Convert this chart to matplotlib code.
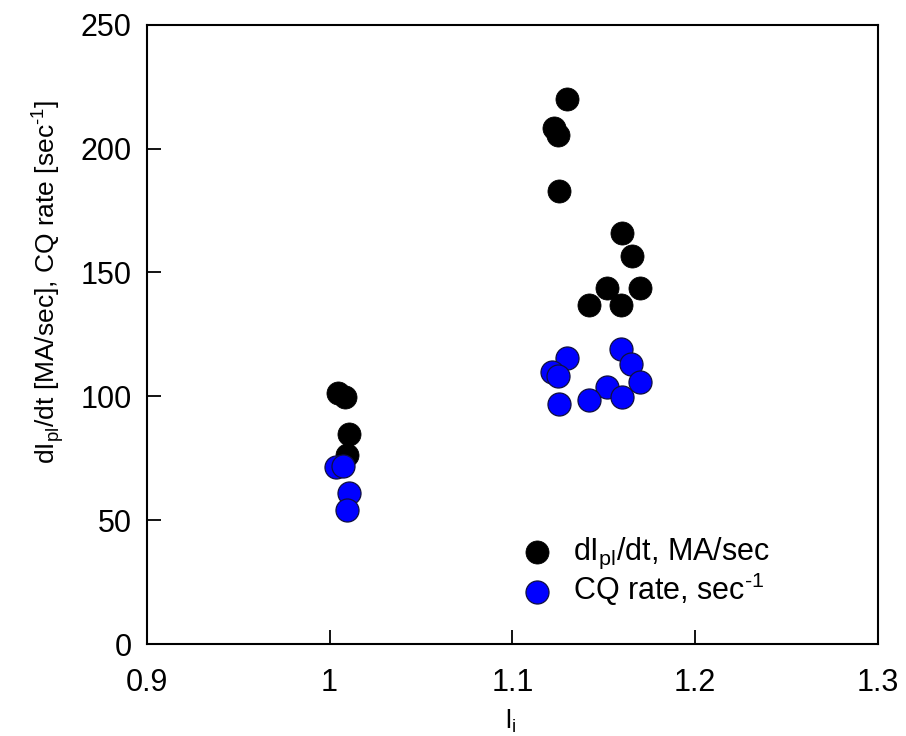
import matplotlib
matplotlib.use("Agg")
import matplotlib.pyplot as plt

plt.rcParams['font.family'] = ['Liberation Sans', 'DejaVu Sans']
plt.rcParams['mathtext.fontset'] = 'custom'
plt.rcParams['mathtext.rm'] = 'Liberation Sans'

li_dip = [1.0044, 1.0082, 1.0104, 1.0093,
          1.1299, 1.1228, 1.1250, 1.1255,
          1.1599, 1.1653, 1.1517, 1.1697, 1.1419, 1.1593]
dip = [101.4, 99.8, 84.8, 76.3,
       220.1, 208.4, 205.6, 183.0,
       166.0, 156.7, 143.8, 143.8, 136.9, 136.9]

li_cq = [1.0038, 1.0076, 1.0104, 1.0093,
         1.1593, 1.1648, 1.1299, 1.1217, 1.1250,
         1.1697, 1.1517, 1.1599, 1.1419, 1.1255]
cq = [71.5, 71.9, 61.0, 54.1,
      119.1, 113.1, 115.5, 109.9, 108.2,
      105.8, 103.8, 99.8, 98.5, 96.9]

xticks = [0.9, 1.0, 1.1, 1.2, 1.3]
xticklabels = ['0.9', '1', '1.1', '1.2', '1.3']
yticks = [0, 50, 100, 150, 200, 250]

fig = plt.figure(figsize=(9.06, 7.36), dpi=100)
ax = fig.add_axes([146.7/906, 1-644/736, (878-146.7)/906, (644-24.7)/736])

ax.scatter(li_dip, dip, s=275, c='black', edgecolors='black', linewidths=0.6,
           label=r'dI$_\mathregular{pl}$/dt, MA/sec', zorder=3)
ax.scatter(li_cq, cq, s=275, c='#0000ff', edgecolors='#101040', linewidths=0.9,
           label=r'CQ rate, sec$^\mathregular{\text{-}1}$', zorder=3)

ax.set_xlim(0.9, 1.3)
ax.set_ylim(0, 250)
ax.set_xticks(xticks)
ax.set_xticklabels(xticklabels)
ax.set_yticks(yticks)
ax.tick_params(direction='in', length=10, width=1.3, labelsize=22,
               top=False, right=False)
ax.tick_params(axis='x', pad=17)
ax.tick_params(axis='y', pad=11)
for s in ax.spines.values():
    s.set_linewidth(1.5)

fig.text(510/906, 1-721/736, r'l$_\mathregular{i}$', fontsize=19,
         ha='center', va='center')
fig.text(48/906, 1-282/736,
         r'dI$_\mathregular{pl}$/dt [MA/sec], CQ rate [sec$^\mathregular{\text{-}1}$]',
         fontsize=19, rotation=90, ha='center', va='center')

ax.legend(loc='upper left', bbox_to_anchor=((506-146.7)/(878-146.7), (644-536)/(644-24.7)),
          frameon=False, fontsize=22, handletextpad=0.2, labelspacing=0.0,
          borderaxespad=0, borderpad=0, markerscale=1.0)

fig.savefig('out.png', dpi=100)
